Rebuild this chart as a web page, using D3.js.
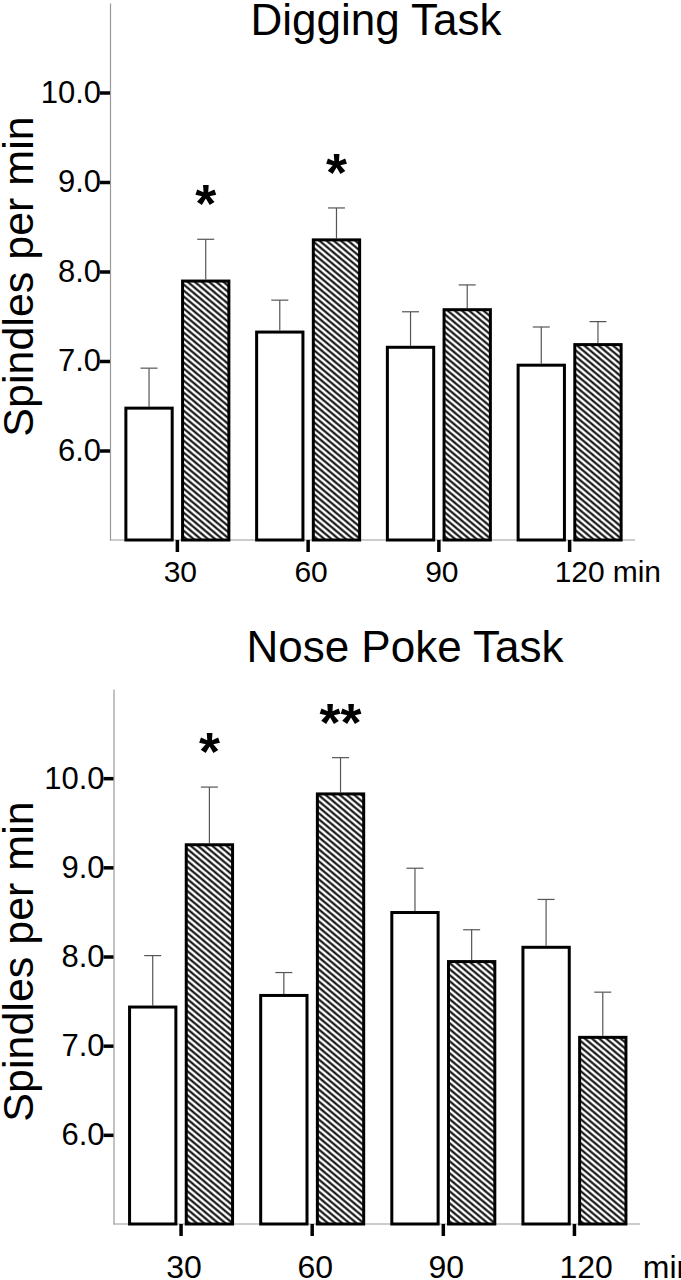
<!DOCTYPE html>
<html>
    <head>
        <script src="https://d3js.org/d3.v7.min.js"></script>
        <style>
            body { margin: 0; background: #fff; }
            text { font-family: "Liberation Sans", Arial, sans-serif; }
        </style>
    </head>

    <body>
        <div id="target"></div>

        <script>
            // values (spindles per min, mean and s.e.)
            var categories = ["30", "60", "90", "120"];
            var groups = ["control", "task"];
            var yTicks = [6, 7, 8, 9, 10];

            var diggingControl    = [6.49, 7.34, 7.17, 6.97];
            var diggingControlErr = [0.43, 0.34, 0.38, 0.41];
            var diggingTask       = [7.91, 8.37, 7.59, 7.20];
            var diggingTaskErr    = [0.45, 0.34, 0.26, 0.24];
            var diggingStars      = ["*", "*", "", ""];

            var noseControl    = [7.45, 7.58, 8.51, 8.12];
            var noseControlErr = [0.56, 0.24, 0.48, 0.52];
            var noseTask       = [9.27, 9.84, 7.96, 7.11];
            var noseTaskErr    = [0.63, 0.39, 0.34, 0.49];
            var noseStars      = ["*", "**", "", ""];

            var svg = d3.select('#target')
                        .append('svg')
                        .attr('width', 681)
                        .attr('height', 1280);

            // diagonal hatch for the task bars
            svg.append('defs').append('pattern')
                .attr('id', 'hatch')
                .attr('patternUnits', 'userSpaceOnUse')
                .attr('width', 4.6)
                .attr('height', 4.6)
                .attr('patternTransform', 'rotate(40)')
              .call(function(p){
                  p.append('rect').attr('width', 4.6).attr('height', 4.6).attr('fill', '#fff');
                  p.append('line').attr('x1', 0).attr('x2', 4.6).attr('y1', 2.3).attr('y2', 2.3)
                      .attr('stroke', '#000').attr('stroke-width', 2);
              });

            function drawChart(opt){
                var g = svg.append('g');

                var y = d3.scaleLinear()
                    .domain([5, 11])
                    .range([opt.bottom, opt.top]);

                var x0 = d3.scaleBand()
                    .domain(categories)
                    .range([opt.left + 2, opt.right]);

                var x1 = d3.scaleBand()
                    .domain(groups)
                    .range([-53, 53])
                    .paddingInner(0.13);

                // title
                g.append('text')
                    .attr('x', opt.titleX)
                    .attr('y', opt.titleY)
                    .attr('text-anchor', 'middle')
                    .attr('font-size', 44)
                    .text(opt.title);

                // y axis
                var yAxis = g.append('g')
                    .attr('transform', 'translate(' + opt.left + ',0)')
                    .call(d3.axisLeft(y)
                        .tickValues(yTicks)
                        .tickFormat(d3.format('.1f'))
                        .tickSize(10)
                        .tickSizeOuter(0)
                        .tickPadding(-1));
                yAxis.select('.domain').attr('stroke', '#999').attr('stroke-width', 1.2);
                yAxis.selectAll('.tick line').attr('stroke', '#000').attr('stroke-width', 3.5);
                yAxis.selectAll('.tick text')
                    .attr('font-size', 31)
                    .attr('font-family', '"Liberation Sans", Arial, sans-serif')
                    .attr('fill', '#000');

                // y label
                g.append('text')
                    .attr('transform', 'translate(33,' + ((opt.top + opt.bottom) / 2 + 5) + ')rotate(-90)')
                    .attr('text-anchor', 'middle')
                    .attr('font-size', 43)
                    .text('Spindles per min');

                // x axis baseline and ticks
                var xAxis = g.append('g')
                    .attr('transform', 'translate(0,' + opt.bottom + ')')
                    .call(d3.axisBottom(x0)
                        .tickSize(12)
                        .tickSizeOuter(0)
                        .tickFormat(''));
                xAxis.select('.domain')
                    .attr('d', 'M' + opt.left + ',0H' + opt.right)
                    .attr('stroke', '#999').attr('stroke-width', 1.2);
                xAxis.selectAll('.tick line').attr('stroke', '#000').attr('stroke-width', 3.5);

                // x labels
                var labels = g.append('g').selectAll('text')
                    .data(categories)
                    .enter()
                    .append('text')
                    .attr('y', opt.bottom + opt.labelDy)
                    .attr('font-size', opt.labelSize);
                labels.filter(function(d, i){ return i < 3; })
                    .attr('x', function(d){ return x0(d) + x0.bandwidth() / 2 + 3; })
                    .attr('text-anchor', 'middle')
                    .text(function(d){ return d; });
                var last = labels.filter(function(d, i){ return i === 3; })
                    .attr('x', function(d){ return x0(d) + x0.bandwidth() / 2 - 15; });
                last.append('tspan').text(function(d){ return d; });
                last.append('tspan').attr('dx', opt.minGap).text('min');

                // bars
                var rows = categories.map(function(c, i){
                    return [
                        {cat: c, grp: 'control', v: opt.control[i], e: opt.controlErr[i], star: ''},
                        {cat: c, grp: 'task', v: opt.task[i], e: opt.taskErr[i], star: opt.stars[i]}
                    ];
                });

                var group = g.append('g')
                    .selectAll('g')
                    .data(rows)
                    .enter()
                    .append('g')
                    .attr('transform', function(d){
                        return 'translate(' + (x0(d[0].cat) + x0.bandwidth() / 2) + ',0)';
                    });

                var bar = group.selectAll('g')
                    .data(function(d){ return d; })
                    .enter()
                    .append('g');

                // error bars (upper only)
                bar.append('line')
                    .attr('x1', function(d){ return x1(d.grp) + x1.bandwidth() / 2; })
                    .attr('x2', function(d){ return x1(d.grp) + x1.bandwidth() / 2; })
                    .attr('y1', function(d){ return y(d.v); })
                    .attr('y2', function(d){ return y(d.v + d.e); })
                    .attr('stroke', '#555')
                    .attr('stroke-width', 1.2);
                bar.append('line')
                    .attr('x1', function(d){ return x1(d.grp) + x1.bandwidth() / 2 - 8.5; })
                    .attr('x2', function(d){ return x1(d.grp) + x1.bandwidth() / 2 + 8.5; })
                    .attr('y1', function(d){ return y(d.v + d.e); })
                    .attr('y2', function(d){ return y(d.v + d.e); })
                    .attr('stroke', '#555')
                    .attr('stroke-width', 1.2);

                bar.append('rect')
                    .attr('x', function(d){ return x1(d.grp) + 1.5; })
                    .attr('width', x1.bandwidth() - 3)
                    .attr('y', function(d){ return y(d.v) + 1.5; })
                    .attr('height', function(d){ return opt.bottom - y(d.v) - 1.5; })
                    .attr('fill', function(d){ return d.grp === 'task' ? 'url(#hatch)' : '#fff'; })
                    .attr('stroke', '#000')
                    .attr('stroke-width', 3);

                // significance marks
                bar.filter(function(d){ return d.star !== ''; })
                    .append('text')
                    .attr('x', function(d){ return x1(d.grp) + x1.bandwidth() / 2; })
                    .attr('y', function(d){ return y(d.v + d.e) - 17; })
                    .attr('text-anchor', 'middle')
                    .attr('font-size', 54)
                    .attr('font-weight', 'bold')
                    .text(function(d){ return d.star; });
            }

            drawChart({
                title: 'Digging Task', titleX: 376, titleY: 35,
                left: 110, right: 635, top: 3, bottom: 540,
                labelDy: 42, labelSize: 30, minGap: 8,
                control: diggingControl, controlErr: diggingControlErr,
                task: diggingTask, taskErr: diggingTaskErr, stars: diggingStars
            });

            drawChart({
                title: 'Nose Poke Task', titleX: 405, titleY: 662,
                left: 113.5, right: 640, top: 689, bottom: 1224,
                labelDy: 54, labelSize: 32, minGap: 30,
                control: noseControl, controlErr: noseControlErr,
                task: noseTask, taskErr: noseTaskErr, stars: noseStars
            });
        </script>
    </body>
</html>
